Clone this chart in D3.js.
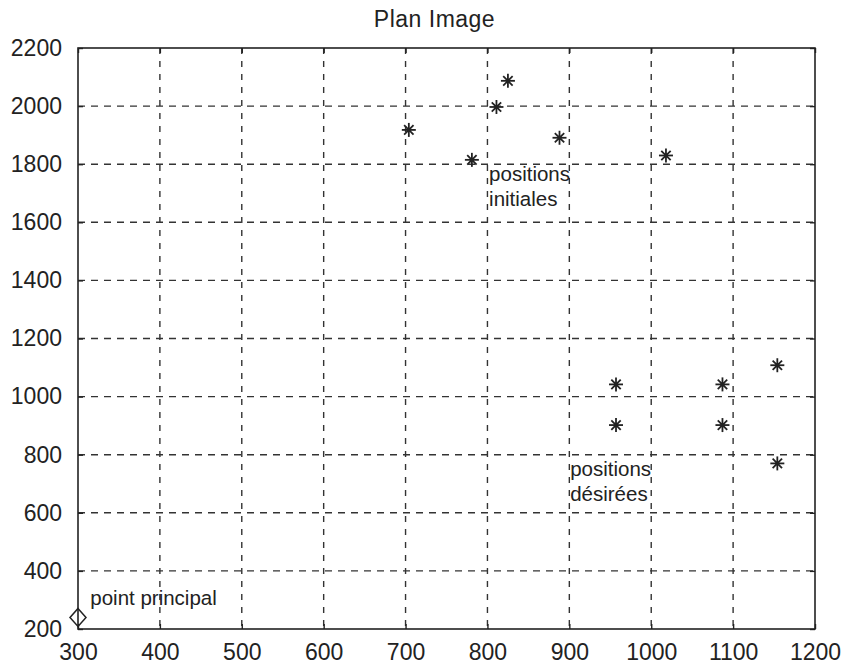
<!DOCTYPE html>
<html>
<head>
<meta charset="utf-8">
<script src="https://cdn.jsdelivr.net/npm/d3@7"></script>
<style>
  html, body { margin: 0; padding: 0; background: #fff; }
  svg { display: block; }
  text { font-family: "Liberation Sans", Arial, sans-serif; fill: #222; }
</style>
</head>
<body>
<svg id="chart" width="848" height="669"></svg>
<script>
// ---- data ----
const title = "Plan Image";
const xTicks = [300, 400, 500, 600, 700, 800, 900, 1000, 1100, 1200];
const yTicks = [200, 400, 600, 800, 1000, 1200, 1400, 1600, 1800, 2000, 2200];

const initialX = [704, 781, 811, 825, 888, 1018];
const initialY = [1918, 1815, 1997, 2087, 1891, 1830];

const desiredX = [957, 1087, 1154, 957, 1087, 1154];
const desiredY = [1042, 1042, 1108, 902, 902, 770];

const principalX = [300];
const principalY = [240];

const labelTexts = [["positions", "initiales"], ["positions", "désirées"], ["point principal"]];
const labelX = [802, 901, 315];
const labelY = [1742, 726, 281];

// ---- layout ----
const svg = d3.select("#chart");
const margin = { left: 78, right: 848 - 815, top: 48, bottom: 669 - 629 };
const W = 848, H = 669;

const x = d3.scaleLinear().domain([300, 1200]).range([margin.left, W - margin.right]);
const y = d3.scaleLinear().domain([200, 2200]).range([H - margin.bottom, margin.top]);

const g = svg.append("g");

// grid
g.append("g").selectAll("line").data(xTicks.slice(1, -1)).join("line")
  .attr("x1", d => x(d)).attr("x2", d => x(d))
  .attr("y1", y(2200)).attr("y2", y(200))
  .attr("stroke", "#333").attr("stroke-width", 1.4).attr("stroke-dasharray", "6,7");
g.append("g").selectAll("line").data(yTicks.slice(1, -1)).join("line")
  .attr("y1", d => y(d)).attr("y2", d => y(d))
  .attr("x1", x(300)).attr("x2", x(1200))
  .attr("stroke", "#333").attr("stroke-width", 1.4).attr("stroke-dasharray", "7,6");

// axes
const xAxisB = d3.axisBottom(x).tickValues(xTicks).tickSize(-5).tickPadding(13).tickFormat(d3.format("d"));
const xAxisT = d3.axisTop(x).tickValues(xTicks).tickSize(-5).tickFormat("");
const yAxisL = d3.axisLeft(y).tickValues(yTicks).tickSize(-5).tickPadding(16).tickFormat(d3.format("d"));
const yAxisR = d3.axisRight(y).tickValues(yTicks).tickSize(-5).tickFormat("");

function styleAxis(sel) {
  sel.select(".domain").remove();
  sel.selectAll(".tick line").attr("stroke", "#222").attr("stroke-width", 1.4);
  sel.selectAll(".tick text").style("font-size", "23px").attr("fill", "#2a2a2a");
}
g.append("g").attr("transform", `translate(0,${y(200)})`).call(xAxisB).call(styleAxis)
  .selectAll(".tick text").attr("dy", "0.78em");
g.append("g").attr("transform", `translate(0,${y(2200)})`).call(xAxisT).call(styleAxis);
g.append("g").attr("transform", `translate(${x(300)},0)`).call(yAxisL).call(styleAxis);
g.append("g").attr("transform", `translate(${x(1200)},0)`).call(yAxisR).call(styleAxis);

// frame
g.append("rect")
  .attr("x", x(300)).attr("y", y(2200))
  .attr("width", x(1200) - x(300)).attr("height", y(200) - y(2200))
  .attr("fill", "none").attr("stroke", "#222").attr("stroke-width", 1.6);

// title
svg.append("text").attr("x", (x(300) + x(1200)) / 2 - 12).attr("y", 27)
  .attr("text-anchor", "middle").style("font-size", "23px").style("letter-spacing", "0.5px")
  .attr("fill", "#333").text(title);

// star markers
function star(sel, r) {
  const a = r * Math.SQRT1_2 * 0.95;
  const segs = [[-r, 0, r, 0], [0, -r, 0, r], [-a, -a, a, a], [-a, a, a, -a]];
  sel.selectAll("line").data(segs).join("line")
    .attr("x1", s => s[0]).attr("y1", s => s[1]).attr("x2", s => s[2]).attr("y2", s => s[3])
    .attr("stroke", "#222").attr("stroke-width", 1.8);
  sel.append("circle").attr("r", 2.2).attr("fill", "#222");
}
const initPts = initialX.map((v, i) => [v, initialY[i]]);
const desPts = desiredX.map((v, i) => [v, desiredY[i]]);
g.append("g").selectAll("g").data(initPts.concat(desPts)).join("g")
  .attr("transform", d => `translate(${x(d[0])},${y(d[1])})`)
  .each(function () { star(d3.select(this), 7); });

// principal point (diamond)
g.append("g").selectAll("path").data(principalX.map((v, i) => [v, principalY[i]])).join("path")
  .attr("transform", d => `translate(${x(d[0])},${y(d[1])})`)
  .attr("d", "M0,-9 L8,0 L0,9 L-8,0 Z")
  .attr("fill", "none").attr("stroke", "#222").attr("stroke-width", 1.5);

// annotation labels
labelTexts.forEach((lines, i) => {
  const t = g.append("text").attr("x", x(labelX[i])).attr("y", y(labelY[i]))
    .style("font-size", "20.5px").attr("fill", "#333");
  lines.forEach((ln, j) => {
    t.append("tspan").attr("x", x(labelX[i])).attr("dy", j === 0 ? 0 : 25).text(ln);
  });
});
</script>
</body>
</html>
